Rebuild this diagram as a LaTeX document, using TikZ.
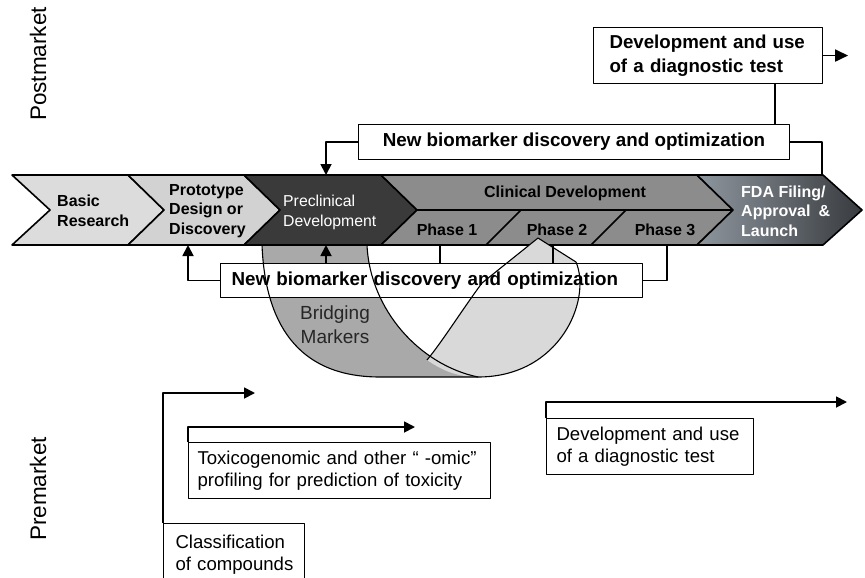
\documentclass[tikz,border=0pt]{standalone}
\usepackage{fontspec}
\setmainfont{Liberation Sans}
\usetikzlibrary{arrows.meta,positioning}

\definecolor{basicgray}{HTML}{DCDCDC}
\definecolor{protogray}{HTML}{D2D2D2}
\definecolor{precgray}{HTML}{3A3A3A}
\definecolor{clingray}{HTML}{8C8C8C}
\definecolor{fdalight}{HTML}{8E969E}
\definecolor{fdadark}{HTML}{383B3F}
\definecolor{darkband}{HTML}{A9A9A9}
\definecolor{lightband}{HTML}{D9D9D9}

\begin{document}
\begin{tikzpicture}[x=1pt,y=-1pt,line join=round,
  >={Triangle[length=11pt,width=11pt]},
  link/.style={line width=1.8pt},
  band/.style={line width=1.1pt},
  stage/.style={font=\fontsize{16}{19.5}\selectfont\bfseries,align=left,inner sep=0pt},
  newbox/.style={draw,line width=1.1pt,fill=white,anchor=north west,
    font=\fontsize{18.8}{22}\selectfont\bfseries},
  testbox/.style={draw,line width=1pt,fill=white,anchor=north west,align=left,
    font=\fontsize{18.6}{22}\selectfont}]
\useasboundingbox (0,0) rectangle (865,578);
\clip (0,0) rectangle (865,578);

%% market labels
\node[rotate=90,font=\fontsize{22.5}{26}\selectfont] (post) at (38,64) {Postmarket};
\node[rotate=90,font=\fontsize{22.5}{26}\selectfont] (prem) at (38,489) {Premarket};

%% ribbon, back half
\fill[darkband] (262,245) .. controls (265,320) and (295,377) .. (380,377) -- (478,377)
  .. controls (420,365) and (370,310) .. (367,245) -- cycle;

%% pipeline chevrons
\begin{scope}[line width=1.6pt]
\filldraw[fill=basicgray] (12,175) -- (128,175) -- (164,210) -- (128,245) -- (12,245) -- (50,210) -- cycle;
\filldraw[fill=protogray] (128,175) -- (244,175) -- (280,210) -- (244,245) -- (128,245) -- (164,210) -- cycle;
\filldraw[fill=precgray] (244,175) -- (381,175) -- (417,210) -- (381,245) -- (244,245) -- (280,210) -- cycle;
\filldraw[fill=clingray] (381,175) -- (697,175) -- (733,210) -- (697,245) -- (381,245) -- (417,210) -- cycle;
\draw (417,210) -- (733,210) (486,245) -- (521,210) (591,245) -- (626,210);
\shadedraw[left color=fdalight,right color=fdadark] (697,175) -- (823,175) -- (862,210) -- (823,245)
  -- (697,245) -- (733,210) -- cycle;
\end{scope}

%% ribbon, front half (tip over phase 2)
\fill[lightband] (538,238) -- (482,283) .. controls (462,310) and (442,342) .. (427,360)
  .. controls (443,371) and (458,377) .. (478,377) .. controls (560,377) and (592,300) .. (576,262) -- cycle;

\node[stage,anchor=west] (basic) at (57,211) {Basic\\Research};
\node[stage,anchor=west] (proto) at (169,211) {Prototype\\Design or\\Discovery};
\node[stage,anchor=west,font=\fontsize{15.8}{20}\selectfont,text=white] (precl) at (283,212) {Preclinical\\Development};
\node[stage] (clin) at (565,193) {Clinical Development};
\node[stage] (ph1) at (447,230) {Phase 1};
\node[stage] (ph2) at (557,230) {Phase 2};
\node[stage] (ph3) at (665,230) {Phase 3};
\node[stage,anchor=west,text=white] (fda) at (741,211) {FDA Filing/\\Approval\enspace\&\\Launch};

%% biomarker boxes
\node[newbox,minimum width=431pt,minimum height=35pt] (nbpost) at (358,124) {New biomarker discovery and optimization};
\node[newbox,minimum height=34pt,align=left,text width=400pt,inner xsep=11pt] (nbpre) at (220,263) {New biomarker discovery and optimization};
\node[newbox,minimum height=56pt,align=left,text width=207pt,inner xsep=11pt,
  font=\fontsize{18.7}{24}\selectfont\bfseries] (dtop) at (593,27) {\hspace*{5pt}Development and use\\\hspace*{5pt}of a diagnostic test};

%% ribbon outlines
\draw[band] (262,245) .. controls (265,320) and (295,377) .. (380,377) -- (478,377);
\draw[band] (367,245) .. controls (370,310) and (420,365) .. (478,377);
\draw[band] (538,238) -- (482,283) .. controls (462,310) and (442,342) .. (427,360);
\draw[band] (478,377) .. controls (560,377) and (592,300) .. (576,262) -- (538,238);
\node[font=\fontsize{19}{24}\selectfont,text=black!85,align=center] (bridge) at (335,325) {Bridging\\Markers};

%% premarket boxes
\node[testbox,minimum height=56pt,text width=294pt,inner xsep=4pt] (tox) at (188,442)
  {\hspace*{5pt}Toxicogenomic and other “ -omic”\\\hspace*{5pt}profiling for prediction of toxicity};
\node[testbox,minimum height=56pt,text width=199pt,inner xsep=4pt] (dlow) at (546,418)
  {\hspace*{6pt}Development and use\\\hspace*{6pt}of a diagnostic test};
\node[testbox,minimum height=62pt,text width=133pt,inner xsep=4pt] (clas) at (163,523)
  {\hspace*{8pt}Classification\\\hspace*{8pt}of compounds};

%% connectors
\coordinate (preTop) at (326,175);
\coordinate (fdaTop) at (822,175);
\coordinate (diagLink) at (775,100);
\coordinate (protoBot) at (188,245);
\coordinate (preBot) at (326,245);
\coordinate (ph1Bot) at (440,245);
\coordinate (ph2Bot) at (553,245);
\coordinate (ph3Bot) at (667,245);
\coordinate (clasEnd) at (255,393);
\coordinate (toxEnd) at (415,427);
\coordinate (dlowEnd) at (847,402);

\draw[link,->] (nbpost.west) -| (preTop);
\draw[link] (nbpost.east) -| (fdaTop);
\draw[link] (dtop.south -| diagLink) -- (nbpost.north -| diagLink);
\draw[link,-{Triangle[length=13pt,width=12pt]}] (dtop.east) -- ++(25,0);
\draw[link,->] (nbpre.west) -| (protoBot);
\draw[link,->] (nbpre.north -| preBot) -- (preBot);
\draw[link] (nbpre.north -| ph1Bot) -- (ph1Bot);
\draw[link] (nbpre.north -| ph2Bot) -- (ph2Bot);
\draw[link] (nbpre.east) -| (ph3Bot);
\draw[link,->] (clas.north west) |- (clasEnd);
\draw[link,->] (tox.north west) |- (toxEnd);
\draw[link,->] (dlow.north west) |- (dlowEnd);
\end{tikzpicture}
\end{document}
